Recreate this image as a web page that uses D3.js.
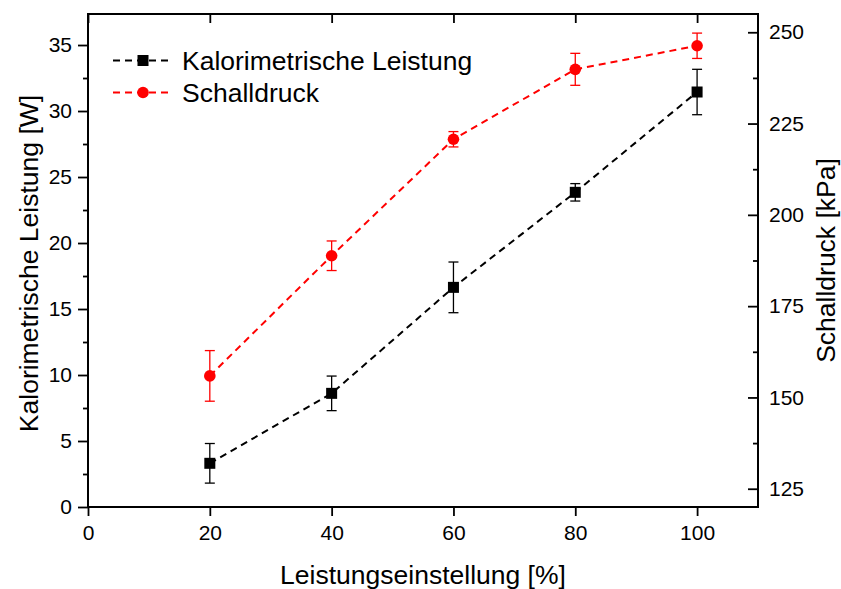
<!DOCTYPE html>
<html>
<head>
<meta charset="utf-8">
<script src="https://cdn.jsdelivr.net/npm/d3@7"></script>
<style>
  body { margin: 0; background: #fff; }
  svg { display: block; font-family: "Liberation Sans", Arial, sans-serif; }
</style>
</head>
<body>
<svg id="chart" width="841" height="589"></svg>
<script>
// Leistungseinstellung in %
const settings = [20, 40, 60, 80, 100];
// Kalorimetrische Leistung [W] with standard deviation
const powerValues = [3.31, 8.61, 16.64, 23.84, 31.44];
const powerErrors = [1.50, 1.31, 1.92, 0.66, 1.72];
// Schalldruck [kPa] with standard deviation
const pressureValues = [155.9, 188.8, 220.7, 239.85, 246.3];
const pressureErrors = [6.93, 4.05, 2.10, 4.38, 3.47];

const xTicks = [0, 20, 40, 60, 80, 100];
const yLeftTicks = [0, 5, 10, 15, 20, 25, 30, 35];
const yRightTicks = [125, 150, 175, 200, 225, 250];

const seriesNames = ["Kalorimetrische Leistung", "Schalldruck"];
const xTitle = "Leistungseinstellung [%]";
const yLeftTitle = "Kalorimetrische Leistung [W]";
const yRightTitle = "Schalldruck [kPa]";

const svg = d3.select("#chart");
const plot = { left: 88, right: 758, top: 14, bottom: 507 };

const x = d3.scaleLinear().domain([0, 110]).range([plot.left, plot.right]);
const yL = d3.scaleLinear().domain([0, 37.35]).range([plot.bottom, plot.top]);
const yR = d3.scaleLinear().domain([120, 255]).range([plot.bottom, plot.top]);

const black = "#000000";
const red = "#ff0000";
const tickFont = "21px";
const titleFont = "26.5px";

// minor ticks halfway between majors
function minors(ticks, scale) {
  const [d0, d1] = scale.domain();
  const step = ticks[1] - ticks[0];
  const out = [];
  for (let v = ticks[0] - step / 2; v <= d1; v += step) {
    if (v >= d0 && v <= d1 && !ticks.includes(v)) out.push(v);
  }
  return out;
}

// bottom axis (ticks outward)
const gx = svg.append("g").attr("transform", `translate(0,${plot.bottom})`)
  .call(d3.axisBottom(x).tickValues(xTicks).tickSize(9).tickPadding(9).tickFormat(d3.format("d")));
// top axis (ticks inward, no labels)
const gxt = svg.append("g").attr("transform", `translate(0,${plot.top})`)
  .call(d3.axisBottom(x).tickValues(xTicks).tickSize(9).tickFormat(""));
// left axis (outward)
const gl = svg.append("g").attr("transform", `translate(${plot.left},0)`)
  .call(d3.axisLeft(yL).tickValues(yLeftTicks).tickSize(10).tickPadding(6).tickFormat(d3.format("d")));
const glm = svg.append("g").attr("transform", `translate(${plot.left},0)`)
  .call(d3.axisLeft(yL).tickValues(minors(yLeftTicks, yL)).tickSize(5).tickFormat(""));
// right axis (inward)
const gr = svg.append("g").attr("transform", `translate(${plot.right},0)`)
  .call(d3.axisLeft(yR).tickValues(yRightTicks).tickSize(10).tickPadding(-21).tickFormat(d3.format("d")));
gr.selectAll("text").attr("text-anchor", "start");
const grm = svg.append("g").attr("transform", `translate(${plot.right},0)`)
  .call(d3.axisLeft(yR).tickValues(minors(yRightTicks, yR)).tickSize(5).tickFormat(""));

[gx, gxt, gl, glm, gr, grm].forEach(g => {
  g.select(".domain").remove();
  g.selectAll("line").attr("stroke", black).attr("stroke-width", 1.8);
  g.selectAll("text").attr("fill", black).style("font-size", tickFont)
    .style("font-family", "'Liberation Sans', Arial, sans-serif");
});

// frame
svg.append("rect")
  .attr("x", plot.left).attr("y", plot.top)
  .attr("width", plot.right - plot.left).attr("height", plot.bottom - plot.top)
  .attr("fill", "none").attr("stroke", black).attr("stroke-width", 2);

// axis titles
svg.append("text").attr("x", (plot.left + plot.right) / 2).attr("y", 584)
  .attr("text-anchor", "middle").style("font-size", titleFont).text(xTitle);
svg.append("text").attr("transform", `translate(38,${(plot.top + plot.bottom) / 2 + 3}) rotate(-90)`)
  .attr("text-anchor", "middle").style("font-size", titleFont).text(yLeftTitle);
svg.append("text").attr("transform", `translate(835,${(plot.top + plot.bottom) / 2}) rotate(-90)`)
  .attr("text-anchor", "middle").style("font-size", titleFont).text(yRightTitle);

function drawSeries(values, errors, yScale, color, shape) {
  const pts = settings.map((s, i) => ({ x: x(s), y: yScale(values[i]), lo: yScale(values[i] - errors[i]), hi: yScale(values[i] + errors[i]) }));
  const g = svg.append("g");
  g.append("path")
    .attr("d", d3.line().x(d => d.x).y(d => d.y)(pts))
    .attr("fill", "none").attr("stroke", color).attr("stroke-width", 2)
    .attr("stroke-dasharray", "7,5");
  const eb = g.selectAll(".eb").data(pts).enter().append("g");
  eb.append("line").attr("x1", d => d.x).attr("x2", d => d.x).attr("y1", d => d.lo).attr("y2", d => d.hi);
  eb.append("line").attr("x1", d => d.x - 5).attr("x2", d => d.x + 5).attr("y1", d => d.lo).attr("y2", d => d.lo);
  eb.append("line").attr("x1", d => d.x - 5).attr("x2", d => d.x + 5).attr("y1", d => d.hi).attr("y2", d => d.hi);
  eb.selectAll("line").attr("stroke", color).attr("stroke-width", 1.3);
  if (shape === "square") {
    g.selectAll(".m").data(pts).enter().append("rect")
      .attr("x", d => d.x - 5.5).attr("y", d => d.y - 5.5).attr("width", 11).attr("height", 11).attr("fill", color);
  } else {
    g.selectAll(".m").data(pts).enter().append("circle")
      .attr("cx", d => d.x).attr("cy", d => d.y).attr("r", 5.8).attr("fill", color);
  }
}

drawSeries(pressureValues, pressureErrors, yR, red, "circle");
drawSeries(powerValues, powerErrors, yL, black, "square");

// legend
const legend = svg.append("g");
const rows = [
  { name: seriesNames[0], color: black, shape: "square", y: 60.5 },
  { name: seriesNames[1], color: red, shape: "circle", y: 92.5 }
];
rows.forEach(r => {
  legend.append("line").attr("x1", 113).attr("x2", 172).attr("y1", r.y).attr("y2", r.y)
    .attr("stroke", r.color).attr("stroke-width", 2).attr("stroke-dasharray", "7,5");
  if (r.shape === "square") {
    legend.append("rect").attr("x", 143 - 5.5).attr("y", r.y - 5.5).attr("width", 11).attr("height", 11).attr("fill", r.color);
  } else {
    legend.append("circle").attr("cx", 143).attr("cy", r.y).attr("r", 5.8).attr("fill", r.color);
  }
  legend.append("text").attr("x", 182).attr("y", r.y + 9).style("font-size", titleFont).text(r.name);
});
</script>
</body>
</html>
